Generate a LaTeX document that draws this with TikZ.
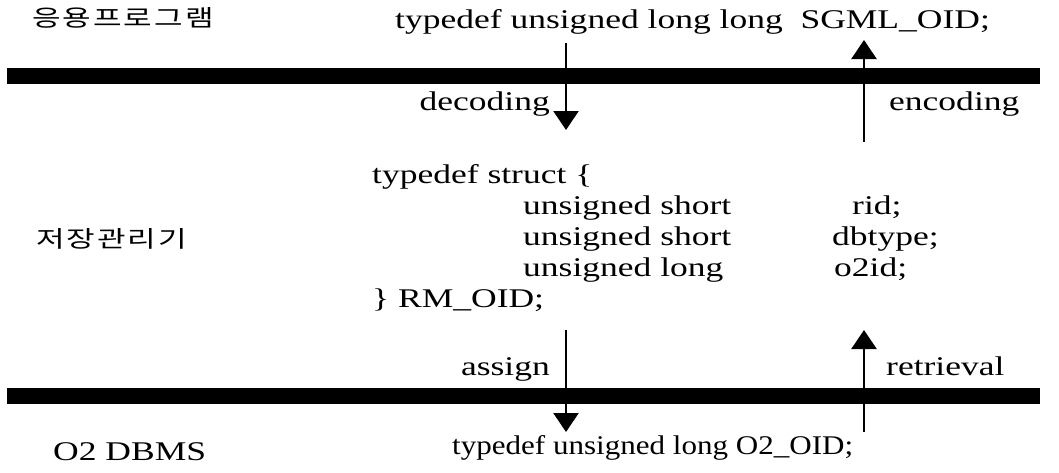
\documentclass[tikz,border=0pt]{standalone}
\usepackage{graphicx}
\usepackage{fontspec}
\setmainfont{Liberation Serif}
\newfontfamily\kr{Noto Sans CJK KR}
\usetikzlibrary{arrows.meta}
\newcommand{\wide}[1]{\scalebox{1.315}[1]{#1}}
\newcommand{\narrowish}[1]{\scalebox{1.15}[1]{#1}}
\newcommand{\kwide}[1]{\scalebox{1.35}[1]{#1}}
\tikzset{
  txt/.style={font=\fontsize{27}{30}\selectfont, inner sep=0pt},
  krtxt/.style={font=\kr\fontsize{23}{26}\selectfont, inner sep=0pt},
  bar/.style={line width=16pt},
  flow/.style={line width=2.4pt, -{Triangle[width=25pt,length=19pt]}},
}
\begin{document}
\begin{tikzpicture}[x=1pt,y=-1pt]
\useasboundingbox (0,0) rectangle (1059,472);
% layer labels
\node[krtxt, anchor=base west] (app) at (32,26) {\kwide{응\hspace{1.5pt}용\hspace{1.5pt}프\hspace{1.5pt}로\hspace{1.5pt}그\hspace{1.5pt}램}};
\node[krtxt, anchor=base west] (sm) at (36,247) {\kwide{저\hspace{1.5pt}장\hspace{1.5pt}관\hspace{1.5pt}리\hspace{1.5pt}기}};
\node[txt, anchor=base west] (dbms) at (53,460) {\wide{O2 DBMS}};
% bars
\coordinate (b1l) at (7,76); \coordinate (b1r) at (1040,76);
\coordinate (b2l) at (7,396); \coordinate (b2r) at (1040,396);
\draw[bar] (b1l) -- (b1r);
\draw[bar] (b2l) -- (b2r);
% type definitions
\node[txt, anchor=base west] (sgml) at (395,28) {\wide{typedef unsigned long long\ \ SGML\_OID;}};
\node[txt, anchor=base west] (s0) at (372,183) {\wide{typedef struct \{}};
\node[txt, anchor=base west] (s1) at (523,214) {\wide{unsigned short}};
\node[txt, anchor=base west] (s2) at (523,245) {\wide{unsigned short}};
\node[txt, anchor=base west] (s3) at (523,276) {\wide{unsigned long}};
\node[txt, anchor=base west] (f1) at (852,214) {\wide{rid;}};
\node[txt, anchor=base west] (f2) at (832,245) {\wide{dbtype;}};
\node[txt, anchor=base west] (f3) at (834,276) {\wide{o2id;}};
\node[txt, anchor=base west] (s4) at (372,307) {\wide{\} RM\_OID;}};
\node[txt, anchor=base west] (o2) at (452,454) {\narrowish{typedef unsigned long O2\_OID;}};
% arrows
\coordinate (d0) at (566,43);  \coordinate (d1) at (566,130);
\coordinate (e0) at (864,142); \coordinate (e1) at (864,40);
\coordinate (a0) at (566,330); \coordinate (a1) at (566,432);
\coordinate (r0) at (864,432); \coordinate (r1) at (864,330);
\draw[flow] (d0) -- (d1);
\draw[flow] (e0) -- (e1);
\draw[flow] (a0) -- (a1);
\draw[flow] (r0) -- (r1);
% arrow labels
\node[txt, anchor=base east] (dec) at (550,110) {\wide{decoding}};
\node[txt, anchor=base west] (enc) at (889,110) {\wide{encoding}};
\node[txt, anchor=base east] (asg) at (550,375) {\wide{assign}};
\node[txt, anchor=base west] (ret) at (886,375) {\wide{retrieval}};
\end{tikzpicture}
\end{document}
